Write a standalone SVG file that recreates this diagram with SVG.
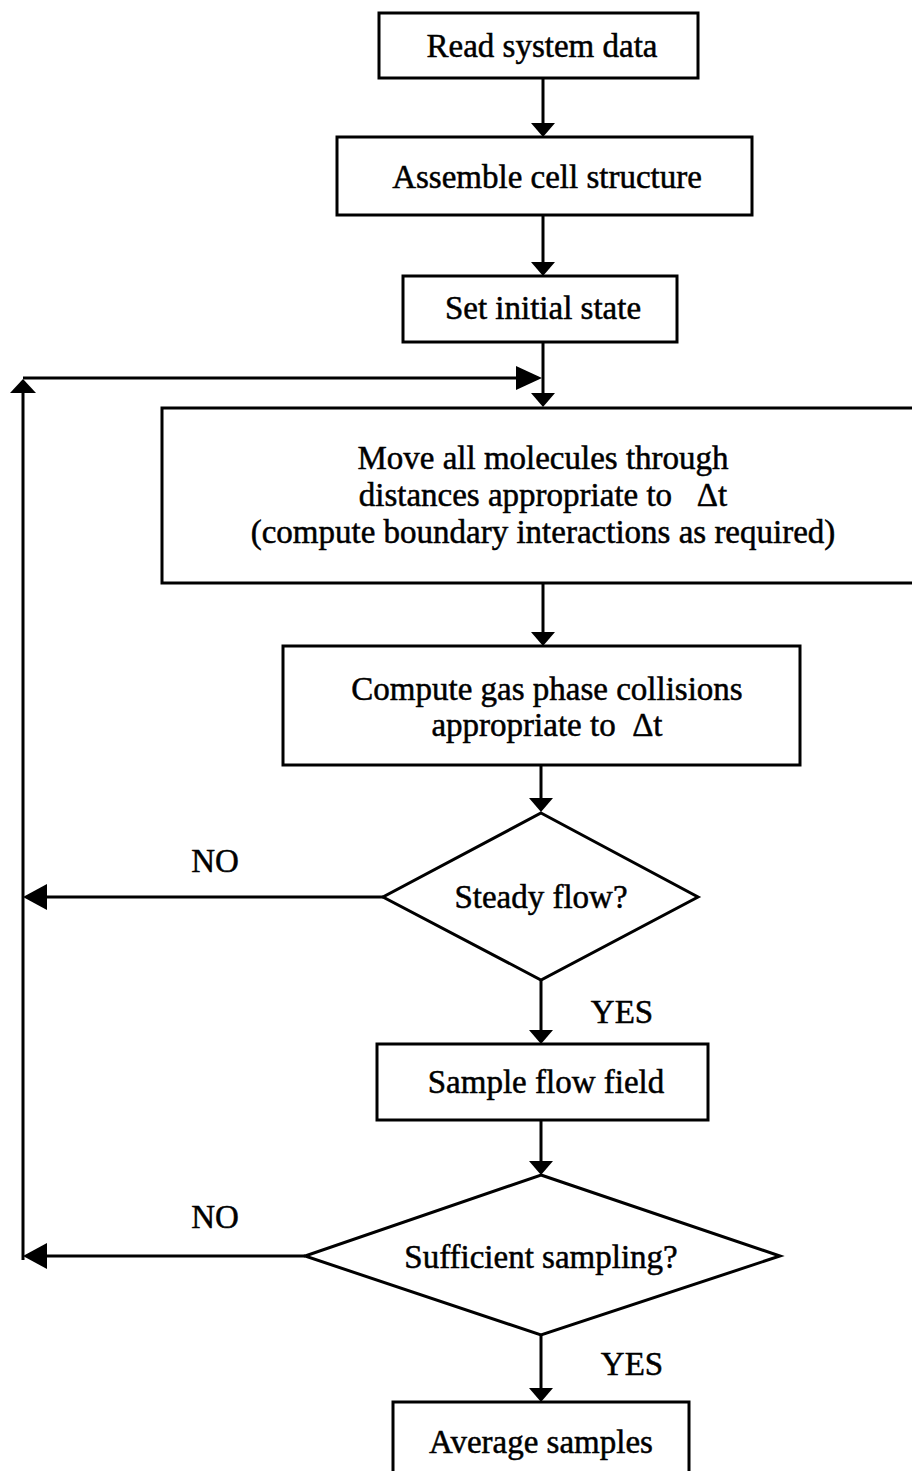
<svg xmlns="http://www.w3.org/2000/svg" width="912" height="1471" viewBox="0 0 912 1471">
  <style>
    .box { fill: #fff; stroke: #000; stroke-width: 3; }
    .line { fill: none; stroke: #000; stroke-width: 3; }
    .head { fill: #000; stroke: none; }
    text { font-family: "Liberation Serif", "Times New Roman", serif; font-size: 33px; fill: #000; stroke: #000; stroke-width: 0.5; text-anchor: middle; white-space: pre; }
  </style>
  <rect width="912" height="1471" fill="#fff"/>

  <!-- connectors -->
  <g id="connectors">
    <!-- main flow -->
    <line class="line" x1="543" y1="78" x2="543" y2="124"/>
    <polygon class="head" points="531,123 555,123 543,137"/>
    <line class="line" x1="543" y1="215" x2="543" y2="263"/>
    <polygon class="head" points="531,262 555,262 543,276"/>
    <line class="line" x1="543" y1="342" x2="543" y2="395"/>
    <polygon class="head" points="531,393 555,393 543,407"/>
    <line class="line" x1="543" y1="583" x2="543" y2="633"/>
    <polygon class="head" points="531,632 555,632 543,646"/>
    <line class="line" x1="541" y1="765" x2="541" y2="800"/>
    <polygon class="head" points="529,798 553,798 541,812"/>
    <line class="line" x1="541" y1="980" x2="541" y2="1031"/>
    <polygon class="head" points="529,1030 553,1030 541,1044"/>
    <line class="line" x1="541" y1="1120" x2="541" y2="1162"/>
    <polygon class="head" points="529,1161 553,1161 541,1175"/>
    <line class="line" x1="541" y1="1335" x2="541" y2="1389"/>
    <polygon class="head" points="529,1388 553,1388 541,1402"/>
    <!-- NO branches back to the loop -->
    <line class="line" x1="383" y1="897" x2="40" y2="897"/>
    <polygon class="head" points="23,897 47,884 47,910"/>
    <line class="line" x1="305" y1="1256" x2="40" y2="1256"/>
    <polygon class="head" points="23,1256 47,1243 47,1269"/>
    <!-- return line -->
    <line class="line" x1="23" y1="1260" x2="23" y2="390"/>
    <polygon class="head" points="10,393 36,393 23,379"/>
    <line class="line" x1="23" y1="378" x2="520" y2="378"/>
    <polygon class="head" points="516,366 516,390 542,378"/>
  </g>

  <g id="read">
    <rect class="box" x="379" y="13" width="319" height="65"/>
    <text x="542" y="57">Read system data</text>
  </g>

  <g id="assemble">
    <rect class="box" x="337" y="137" width="415" height="78"/>
    <text x="547" y="188">Assemble cell structure</text>
  </g>

  <g id="initial">
    <rect class="box" x="403" y="276" width="274" height="66"/>
    <text x="543" y="319">Set initial state</text>
  </g>

  <g id="move">
    <rect class="box" x="162" y="408" width="760" height="175"/>
    <text x="543" y="469">Move all molecules through</text>
    <text x="543" y="506">distances appropriate to   Δt</text>
    <text x="543" y="543">(compute boundary interactions as required)</text>
  </g>

  <g id="collide">
    <rect class="box" x="283" y="646" width="517" height="119"/>
    <text x="547" y="700">Compute gas phase collisions</text>
    <text x="547" y="736">appropriate to  Δt</text>
  </g>

  <g id="steady">
    <polygon class="box" points="541,813 698,897 541,980 383,897"/>
    <text x="541" y="908">Steady flow?</text>
  </g>

  <g id="sample">
    <rect class="box" x="377" y="1044" width="331" height="76"/>
    <text x="546" y="1093">Sample flow field</text>
  </g>

  <g id="sufficient">
    <polygon class="box" points="541,1175 780,1256 541,1335 305,1256"/>
    <text x="541" y="1268">Sufficient sampling?</text>
  </g>

  <g id="average">
    <rect class="box" x="393" y="1402" width="296" height="80"/>
    <text x="541" y="1453">Average samples</text>
  </g>

  <g id="labels">
    <text x="215" y="872">NO</text>
    <text x="622" y="1023">YES</text>
    <text x="215" y="1228">NO</text>
    <text x="632" y="1375">YES</text>
  </g>
</svg>
